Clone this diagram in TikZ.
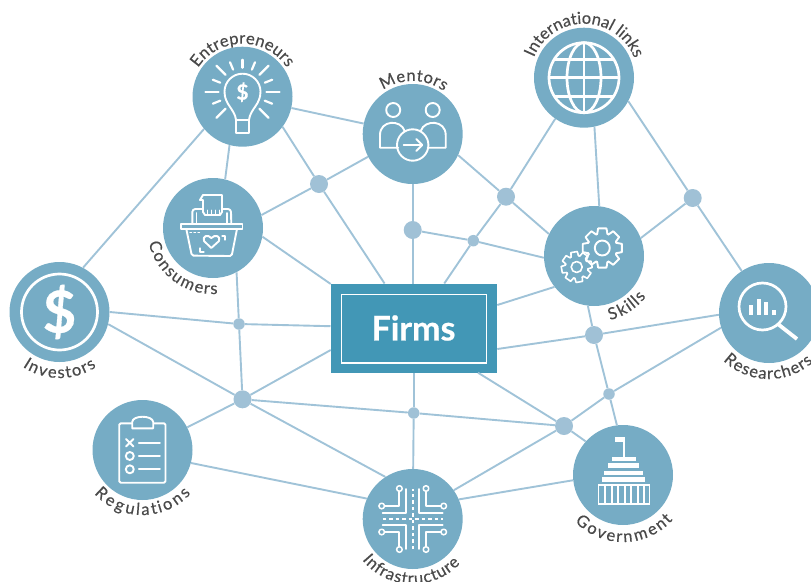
\documentclass[tikz,border=0pt]{standalone}
\usepackage{fontspec}
\setmainfont{Lato}
\newfontfamily\lblfont[FakeBold=0.35]{Lato}
\newfontfamily\heavyfont[FakeBold=0.5,BoldFont={Lato Bold}]{Lato Bold}
\usetikzlibrary{decorations.text,arrows.meta}
\definecolor{hubblue}{HTML}{76ACC5}
\definecolor{linkblue}{HTML}{A0C3D8}
\definecolor{dotblue}{HTML}{A0C1D6}
\definecolor{firmblue}{HTML}{4297B6}
\definecolor{labelgray}{HTML}{4A4A4A}
\tikzset{
  hub/.style={circle,fill=hubblue,minimum size=100pt,inner sep=0pt},
  bigdot/.style={circle,fill=dotblue,minimum size=18pt,inner sep=0pt},
  smalldot/.style={circle,fill=dotblue,minimum size=11.5pt,inner sep=0pt},
  link/.style={draw=linkblue,line width=1.9pt},
  ico/.style={draw=white,line width=1.9pt,line cap=round,line join=round},
  icothick/.style={draw=white,line width=2.7pt,line join=round},
  firmbox/.style={rectangle,fill=firmblue,minimum width=166.6pt,minimum height=89pt,inner sep=0pt},
}
\newcommand{\arclabel}[5]{%
  \path[decorate,decoration={text effects along path,text={#5},
    text effects/.cd,text along path,fit text to path,
      characters={text=labelgray,font=\lblfont\fontsize{16.5}{16.5}\selectfont}}]
    ([shift={(#2:#4pt)}]#1.center) arc[start angle=#2,end angle=#3,radius=#4pt];}
\begin{document}
\begin{tikzpicture}[x=1pt,y=1pt]
\clip (0,0) rectangle (811,-581);
% nodes
\node[hub] (ent) at (242.5,-96.7) {};
\node[hub] (men) at (412.7,-134) {};
\node[hub] (con) at (213,-228) {};
\node[hub] (int) at (584,-77.7) {};
\node[hub] (ski) at (594,-256) {};
\node[hub] (res) at (769,-313) {};
\node[hub] (inv) at (59.5,-312) {};
\node[hub] (reg) at (142.5,-450) {};
\node[hub] (inf) at (412.7,-519) {};
\node[hub] (gov) at (623,-475) {};
\node[firmbox] (firms) at (414,-328.2) {};
\node[bigdot] (ja) at (319,-184) {};
\node[bigdot] (jb) at (412.7,-230) {};
\node[smalldot] (jc) at (473.3,-240.7) {};
\node[bigdot] (jd) at (506,-196.7) {};
\node[bigdot] (je) at (692.7,-198) {};
\node[smalldot] (jf) at (239,-324) {};
\node[bigdot] (jg) at (242.5,-399.3) {};
\node[smalldot] (jh) at (413.7,-413) {};
\node[bigdot] (ji) at (564,-426) {};
\node[bigdot] (jj) at (594,-335) {};
\node[smalldot] (jk) at (609,-394) {};
\coordinate (fa) at (330.7,-284);
\coordinate (fb) at (330.7,-350);
\coordinate (fc) at (497.3,-349);
\coordinate (fd) at (497.3,-305);
\coordinate (fe) at (478,-372.7);
\coordinate (ft) at (412.7,-284);
\coordinate (fu) at (413.7,-372.7);
% connectors
\draw[link] (ent.347) -- (men.168);
\draw[link] (ent.323) -- (ja);
\draw[link] (ent.255) -- (con.76);
\draw[link] (ent.220) -- (inv.62);
\draw[link] (ja) -- (men.207);
\draw[link] (ja) -- (con.15);
\draw[link] (ja) -- (firms);
\draw[link] (con.350) -- (fa);
\draw[link] (con.298) -- (jf);
\draw[link] (men) -- (jb);
\draw[link] (jb) -- (ft);
\draw[link] (jb) -- (jc);
\draw[link] (jc) -- (ski.182);
\draw[link] (jc) -- (firms);
\draw[link] (jc) -- (jd);
\draw[link] (men.335) -- (jd);
\draw[link] (jd) -- (int.235);
\draw[link] (jd) -- (ski.154);
\draw[link] (int.282) -- (ski.84);
\draw[link] (int.332) -- (je);
\draw[link] (je) -- (ski.21);
\draw[link] (je) -- (res.123);
\draw[link] (fd) -- (ski.218);
\draw[link] (ski.263) -- (jj);
\draw[link] (jj) -- (jk);
\draw[link] (jk) -- (gov.97);
\draw[link] (fc) -- (jj);
\draw[link] (jj) -- (res.182);
\draw[link] (jk) -- (res.197);
\draw[link] (jk) -- (ji);
\draw[link] (ji) -- (gov.138);
\draw[link] (ji) -- (fe);
\draw[link] (ji) -- (inf.35);
\draw[link] (ji) -- (jh);
\draw[link] (jh) -- (jg);
\draw[link] (jh) -- (fu);
\draw[link] (jh) -- (inf);
\draw[link] (inv.0) -- (jf);
\draw[link] (jf) -- (firms);
\draw[link] (jf) -- (jg);
\draw[link] (inv.346) -- (jg);
\draw[link] (jg) -- (fb);
\draw[link] (jg) -- (reg);
\draw[link] (jg) -- (inf.123);
\draw[link] (reg.345) -- (inf.156);
\draw[link] (inf.23) -- (gov.186);
% firms
\draw[white,line width=1.6pt] (341.3,-294.3) rectangle (486.3,-362.7);
\node[text=white,inner sep=0pt,font=\heavyfont\fontsize{34}{34}\selectfont] (firmtext) at (413.5,-328) {Firms};
% entrepreneurs icon
\begin{scope}[shift={(ent.center)}]
  \draw[ico] (-6.5,-23) .. controls (-8,-12) and (-18,-8) .. (-18,5) arc[start angle=180,end angle=0,radius=18pt] .. controls (18,-8) and (8,-12) .. (6.5,-23);
  \draw[ico] (-6.5,-23) -- (6.5,-23) -- (6.5,-36) -- (-6.5,-36) -- cycle;
  \foreach \a in {0,45,135,180,225,315}{\draw[ico,line width=2.2pt] (0,5)++(\a:24) -- ++(\a:13);}
  \foreach \a in {22,67,90,113,158,202,338}{\draw[ico,line width=2.2pt] (0,5)++(\a:24) -- ++(\a:8);}
  \node[text=white,inner sep=0pt,font=\heavyfont\fontsize{21}{21}\selectfont] (entdollar) at (0,4.5) {\$};
\end{scope}
% mentors icon
\begin{scope}[shift={(men.center)}]
  \draw[ico] (-19.5,24) circle[radius=7pt] (20,24) circle[radius=7pt];
  \draw[ico] (-14.5,-13.7) -- (-32.7,-13.7) -- (-32.7,-1) .. controls (-32.7,14) and (-12,15) .. (-8,3);
  \draw[ico] (15,-13.7) -- (33,-13.7) -- (33,-1) .. controls (33,14) and (12,15) .. (8,3);
  \draw[ico] (0,-11) circle[radius=15.7pt];
  \draw[ico] (-9,-11) -- (9,-11);
  \draw[ico] (3.5,-5) -- (9.5,-11) -- (3.5,-17);
\end{scope}
% consumers icon
\begin{scope}[shift={(con.center)}]
  \draw[ico] (-32.3,4.3) rectangle (29.5,-1);
  \draw[ico] (-26.7,-1) -- (-21.5,-26) arc[start angle=190,end angle=270,radius=2pt] -- (17,-28) arc[start angle=270,end angle=350,radius=2pt] -- (24,-1);
  \draw[ico] (-20.7,4.3) -- (-20.7,16) arc[start angle=180,end angle=90,radius=3pt] -- (15,19) arc[start angle=90,end angle=0,radius=3pt] -- (18.3,4.3);
  \draw[ico] (-16.5,4.3) -- (-16.5,15);
  \draw[ico] (14,4.3) -- (14,15);
  \draw[ico,fill=hubblue] (-10,16) -- (-10,28) -- (-13,28) -- (-10,33) -- (9,33) -- (9,16) -- (7,13) -- (-8,13) -- cycle;
  \draw[ico,line width=1pt] (-6,13) -- (-6,18) (-2,13) -- (-2,18) (2,13) -- (2,18) (6,13) -- (6,18);
  \draw[ico] (-1.7,-20) -- (-9,-13) .. controls (-11,-8) and (-5,-6) .. (-1.7,-10) .. controls (2,-6) and (8,-8) .. (6,-13) -- cycle;
  \draw[ico,line width=1.2pt] (-13,-20) -- (-13,-24) -- (-9,-24) (9,-8) -- (12,-8) -- (12,-12);
  \draw[ico,line width=1.2pt] (-23,-4.5) -- (-21.5,-4.5) (-19,-4.5) -- (-17.5,-4.5) (-15,-4.5) -- (-13.5,-4.5);
\end{scope}
% international icon
\begin{scope}[shift={(int.center)}]
  \draw[icothick] (0,0) circle[radius=35pt];
  \draw[icothick] (0,0) ellipse[x radius=17pt,y radius=35pt];
  \draw[icothick] (0,-35) -- (0,35) (-35,0) -- (35,0) (-29.5,18.5) -- (29.5,18.5) (-29.5,-18.5) -- (29.5,-18.5);
\end{scope}
% skills icon
\begin{scope}[shift={(ski.center)}]
  \begin{scope}[shift={(8.3,8)}]
    \draw[ico] (0,0) circle[radius=7.5pt];
    \foreach \a in {0,45,...,315}{
      \draw[ico] (\a+20:15) -- (\a+12:20) -- (\a-12:20) -- (\a-20:15) arc[start angle=\a-20,end angle=\a-25,radius=15pt];
      \draw[ico] (\a+20:15) arc[start angle=\a+20,end angle=\a+25,radius=15pt];}
  \end{scope}
  \begin{scope}[shift={(-17.3,-11)}]
    \draw[ico,line width=1.6pt] (0,0) circle[radius=5.5pt];
    \foreach \a in {10,55,...,325}{
      \draw[ico,line width=1.6pt] (\a+19:11.5) -- (\a+12:15.5) -- (\a-12:15.5) -- (\a-19:11.5) arc[start angle=\a-19,end angle=\a-26,radius=11.5pt];
      \draw[ico,line width=1.6pt] (\a+19:11.5) arc[start angle=\a+19,end angle=\a+26,radius=11.5pt];}
  \end{scope}
\end{scope}
% researchers icon
\begin{scope}[shift={(res.center)}]
  \draw[icothick] (-6.5,6.5) circle[radius=23.5pt];
  \draw[draw=white,line width=3.8pt] (9.5,-11.5) -- (28,-26);
  \fill[white] (-20.5,-2) rectangle (-16.5,8);
  \fill[white] (-12.5,-2) rectangle (-8.5,14);
  \fill[white] (-5,-2) rectangle (-1,11);
  \fill[white] (3,-2) rectangle (7,3);
\end{scope}
% investors icon
\begin{scope}[shift={(inv.center)}]
  \draw[icothick] (0,0) circle[radius=38pt];
  \node[text=white,inner sep=0pt,font=\heavyfont\fontsize{58}{58}\selectfont] (invdollar) at (0,0) {\$};
\end{scope}
% regulations icon
\begin{scope}[shift={(reg.center)}]
  \draw[ico,rounded corners=1.5pt] (-23.3,26.7) rectangle (23,-32.7);
  \draw[ico,fill=hubblue] (-10.3,21.7) -- (-10.3,28) .. controls (-10,35) and (10,35) .. (10.7,28) -- (10.7,21.7) -- cycle;
  \draw[ico] (-16.5,11) -- (-9,3.5) (-16.5,3.5) -- (-9,11);
  \draw[ico] (-12.7,-6) circle[radius=4pt] (-12.7,-19.3) circle[radius=4pt];
  \draw[ico] (-3.7,7.3) -- (17.3,7.3) (-3.7,-6) -- (17.3,-6) (-3.7,-19.3) -- (17.3,-19.3);
\end{scope}
% infrastructure icon
\begin{scope}[shift={(inf.center)}]
  \foreach \sx/\sy in {1/1,-1/1,1/-1,-1/-1}{
    \begin{scope}[xscale=\sx,yscale=\sy]
      \draw[ico] (6.7,30) -- (6.7,5.7) -- (30,5.7);
      \draw[ico] (13.3,27.5) -- (13.3,13) -- (28,13);
      \draw[ico,line width=1.5pt] (13.3,30.5) circle[radius=2.8pt] (31,13) circle[radius=2.8pt];
    \end{scope}}
  \draw[ico,line cap=butt,dash pattern=on 3.5pt off 3pt] (-30,0) -- (30,0);
  \draw[ico,line cap=butt,dash pattern=on 3.5pt off 3pt] (0,-30) -- (0,30);
\end{scope}
% government icon
\begin{scope}[shift={(gov.center)}]
  \fill[white] (-8,38.3) rectangle (2,33.3);
  \fill[white] (0,38.3) rectangle (2,18);
  \fill[white] (-11.3,18.3) rectangle (12.7,14);
  \fill[white] (-14.7,11.7) rectangle (16.3,6.7);
  \fill[white] (-19,4.3) rectangle (20.3,0);
  \fill[white] (-21.3,-1.7) rectangle (22,-6.7);
  \draw[draw=white,line width=1.8pt] (-24.5,-9.8) rectangle (26.5,-29);
  \foreach \x in {-18,-11.5,-5,1.5,8,14.5,21}{\fill[white] (\x-1,-9.8) rectangle (\x+1,-29);}
\end{scope}
% labels
\arclabel{ent}{147}{33}{53}{Entrepreneurs}
\arclabel{men}{124}{54}{53}{Mentors}
\arclabel{int}{158}{21}{54}{International links}
\arclabel{con}{193}{274}{66}{Consumers}
\arclabel{ski}{284}{322}{66}{Skills}
\arclabel{res}{226}{312}{66}{Researchers}
\arclabel{inv}{236}{304}{66}{Investors}
\arclabel{reg}{222}{318}{65}{Regulations}
\arclabel{inf}{219}{317}{65}{Infrastructure}
\arclabel{gov}{224}{318}{67}{Government}
\end{tikzpicture}
\end{document}
